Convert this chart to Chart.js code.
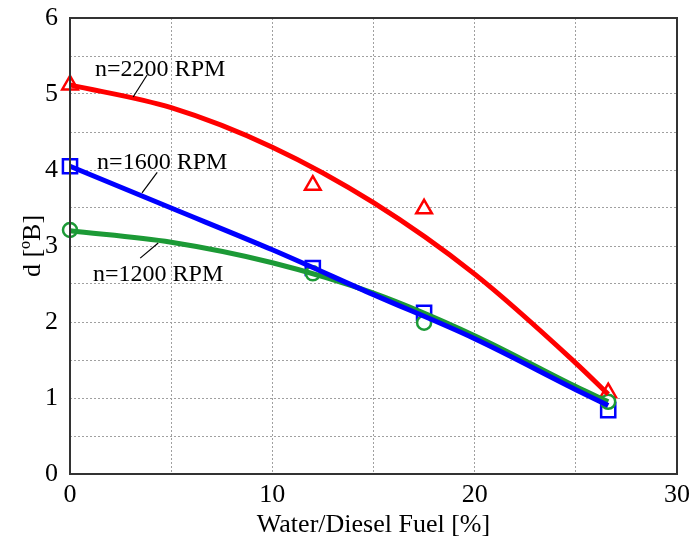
<!DOCTYPE html>
<html>
<head>
<meta charset="utf-8">
<script src="https://cdn.jsdelivr.net/npm/chart.js@4/dist/chart.umd.min.js"></script>
<style>
  html, body { margin: 0; padding: 0; background: #fff; }
  #wrap { width: 690px; height: 541px; }
</style>
</head>
<body>
<div id="wrap"><canvas id="chart"></canvas></div>
<script>
// measured points
const fuelX = [0, 12, 17.5, 26.6];
const rpm2200 = [5.12, 3.80, 3.49, 1.07];
const rpm1600 = [4.05, 2.71, 2.12, 0.84];
const rpm1200 = [3.21, 2.64, 1.99, 0.95];

// fitted curves
const fitX = [0, 5, 10, 15, 20, 25, 26.6];
const fit2200 = [5.12, 4.82, 4.30, 3.57, 2.63, 1.46, 1.05];
const fit1600 = [4.05, 3.50, 2.95, 2.36, 1.78, 1.11, 0.90];
const fit1200 = [3.20, 3.05, 2.78, 2.38, 1.82, 1.15, 0.95];

const xTicks = [0, 10, 20, 30];
const yTicks = [0, 1, 2, 3, 4, 5, 6];

const RED = '#ff0000', BLUE = '#0000ff', GREEN = '#1c9a36';
const FONT = '"Liberation Serif", "Times New Roman", serif';

const pts = (xs, ys) => xs.map((x, i) => ({x: x, y: ys[i]}));

function curve(xs, ys, color) {
  return {
    data: pts(xs, ys), showLine: true, borderColor: color, borderWidth: 5,
    pointRadius: 0, cubicInterpolationMode: 'monotone', fill: false, clip: false
  };
}
function marks(xs, ys, color, style, r) {
  return {
    data: pts(xs, ys), showLine: false, borderColor: color, backgroundColor: '#fff',
    pointStyle: style, pointRadius: r, pointBorderWidth: 2.5, clip: false
  };
}

// labels with leader lines + plot frame
const notes = {
  id: 'notes',
  afterDatasetsDraw(chart) {
    const {ctx, chartArea: a, scales: {x, y}} = chart;
    ctx.save();
    ctx.strokeStyle = '#333';
    ctx.lineWidth = 2;
    ctx.strokeRect(a.left, a.top, a.right - a.left, a.bottom - a.top);
    const items = [
      ['n=2200 RPM', 1.24, 5.32, [3.81, 5.25, 3.12, 4.96]],
      ['n=1600 RPM', 1.34, 4.10, [4.31, 3.97, 3.56, 3.70]],
      ['n=1200 RPM', 1.14, 2.62, [4.36, 3.04, 3.47, 2.84]]
    ];
    ctx.font = '24px ' + FONT;
    ctx.textBaseline = 'middle';
    ctx.fillStyle = '#000';
    ctx.strokeStyle = '#000';
    ctx.lineWidth = 1.2;
    items.forEach(([t, tx, ty, l]) => {
      ctx.fillText(t, x.getPixelForValue(tx), y.getPixelForValue(ty));
      ctx.beginPath();
      ctx.moveTo(x.getPixelForValue(l[0]), y.getPixelForValue(l[1]));
      ctx.lineTo(x.getPixelForValue(l[2]), y.getPixelForValue(l[3]));
      ctx.stroke();
    });
    ctx.restore();
  }
};

const grid = {color: '#a0a0a0', lineWidth: 1, drawTicks: false};

new Chart(document.getElementById('chart'), {
  type: 'scatter',
  data: {
    datasets: [
      curve(fitX, fit2200, RED),
      curve(fitX, fit1600, BLUE),
      curve(fitX, fit1200, GREEN),
      marks(fuelX, rpm1200, GREEN, 'circle', 7),
      marks(fuelX, rpm1600, BLUE, 'rect', 10),
      marks(fuelX, rpm2200, RED, 'triangle', 9)
    ]
  },
  options: {
    responsive: true,
    maintainAspectRatio: false,
    animation: false,
    layout: {padding: 0},
    plugins: {legend: {display: false}, tooltip: {enabled: false}},
    scales: {
      x: {
        type: 'linear', min: 0, max: 30,
        afterFit: s => { s.height = 67; s.paddingLeft = 0; s.paddingRight = 13; },
        grid: grid,
        border: {display: false, dash: [2, 2]},
        ticks: {
          stepSize: 5, padding: 8, color: '#000', maxRotation: 0,
          font: {family: FONT, size: 26, lineHeight: 1},
          callback: v => xTicks.includes(v) ? String(v) : ''
        },
        title: {display: true, text: 'Water/Diesel Fuel [%]', color: '#000',
          font: {family: FONT, size: 26, lineHeight: 1}, padding: {top: 3, bottom: 3}}
      },
      y: {
        min: 0, max: 6,
        afterFit: s => { s.width = 70; s.paddingTop = 18; s.paddingBottom = 0; },
        grid: grid,
        border: {display: false, dash: [2, 2]},
        ticks: {
          stepSize: 0.5, padding: 12, color: '#000',
          font: {family: FONT, size: 26, lineHeight: 1},
          callback: v => yTicks.includes(v) ? String(v) : ''
        },
        title: {display: true, text: 'd [\u00BAB]', color: '#000',
          font: {family: FONT, size: 26, lineHeight: 1}, padding: {top: 20, bottom: 0}}
      }
    }
  },
  plugins: [notes]
});
</script>
</body>
</html>
